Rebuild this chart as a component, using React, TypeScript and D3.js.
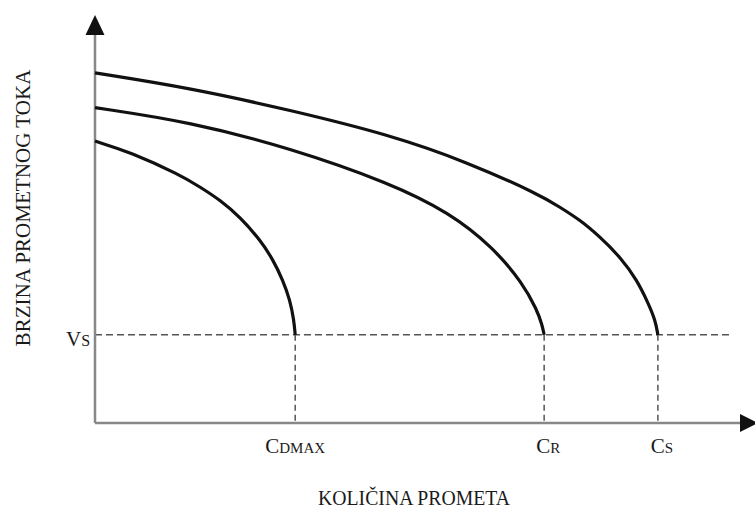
import React from "react";
import * as d3 from "d3";

// Speed-flow curves (flow on x, speed on y) (0-100 units)
const curveS_flow = [0, 14.6, 30.0, 45.4, 57.2, 68.5, 71.5, 74.6, 77.7, 80.8, 83.4, 85.1, 86.2, 86.6];
const curveS_speed = [85.8, 82.1, 76.7, 70.6, 64.0, 55.9, 52.9, 49.8, 45.6, 40.7, 35.0, 29.4, 25.2, 21.6];
const curveR_flow = [0, 14.6, 30.0, 45.4, 54.6, 61.2, 65.8, 68.0, 68.8, 69.1];
const curveR_speed = [77.3, 73.8, 67.4, 58.8, 51.5, 43.1, 34.3, 27.7, 24.0, 21.6];
const curveD_flow = [0, 5.4, 13.1, 16.2, 19.2, 22.3, 25.4, 27.4, 28.9, 30.0, 30.6, 30.8];
const curveD_speed = [69.1, 66.4, 60.8, 57.8, 54.7, 50.5, 44.9, 40.0, 35.0, 30.1, 25.2, 21.6];

const vsValue = 21.6;
const vsLabel = ["V", "S"];
const capacityValues = [30.8, 69.1, 86.6];
const capacityLabels = [["C", "DMAX"], ["C", "R"], ["C", "S"]];
const xTitle = "KOLIČINA PROMETA";
const yTitle = "BRZINA PROMETNOG TOKA";

const W = 755;
const H = 509;

export default function App() {
  const x = d3.scaleLinear().domain([0, 100]).range([95, 745]);
  const y = d3.scaleLinear().domain([0, 100]).range([423, 15]);
  const line = d3
    .line<[number, number]>()
    .x((d) => x(d[0]))
    .y((d) => y(d[1]))
    .curve(d3.curveBasis);

  const series = [
    curveS_flow.map((f, i) => [f, curveS_speed[i]] as [number, number]),
    curveR_flow.map((f, i) => [f, curveR_speed[i]] as [number, number]),
    curveD_flow.map((f, i) => [f, curveD_speed[i]] as [number, number]),
  ];

  const x0 = x(0);
  const y0 = y(0);
  const yTop = y(100);
  const font = "'Liberation Serif', 'Times New Roman', serif";

  return (
    <svg
      width={W}
      height={H}
      style={{ position: "absolute", left: 0, top: 0, background: "#fff" }}
      fontFamily={font}
    >
      {/* Vs dashed line */}
      <line
        x1={x0}
        x2={x(97.7)}
        y1={y(vsValue)}
        y2={y(vsValue)}
        stroke="#555"
        strokeWidth={1.5}
        strokeDasharray="7,4"
      />
      {/* capacity dashed lines */}
      {capacityValues.map((c, i) => (
        <line
          key={i}
          x1={x(c)}
          x2={x(c)}
          y1={y(vsValue)}
          y2={y0}
          stroke="#555"
          strokeWidth={1.5}
          strokeDasharray="6,4"
        />
      ))}
      {/* axes */}
      <line x1={x0} x2={x0} y1={y0} y2={yTop + 18} stroke="#888" strokeWidth={2.5} />
      <line x1={x0} x2={742} y1={y0} y2={y0} stroke="#888" strokeWidth={2.5} />
      <path d={`M${x0},${yTop} L${x0 - 9.5},${yTop + 20} L${x0 + 9.5},${yTop + 20} Z`} fill="#111" />
      <path d={`M758,${y0} L740,${y0 - 9} L740,${y0 + 9} Z`} fill="#111" />
      {/* curves */}
      {series.map((s, i) => (
        <path key={i} d={line(s) || ""} fill="none" stroke="#111" strokeWidth={3.2} />
      ))}
      {/* Vs label */}
      <text x={78} y={346} textAnchor="middle" fill="#1a1a1a" fontSize={21}>
        {vsLabel[0]}
        <tspan fontSize={16}>{vsLabel[1]}</tspan>
      </text>
      {/* capacity labels */}
      {capacityValues.map((c, i) => (
        <text
          key={i}
          x={x(c) + (i === 0 ? 0 : 4)}
          y={453}
          textAnchor="middle"
          fill="#1a1a1a"
          fontSize={21}
        >
          {capacityLabels[i][0]}
          <tspan fontSize={15}>{capacityLabels[i][1]}</tspan>
        </text>
      ))}
      {/* axis titles */}
      <text
        x={414}
        y={505}
        textAnchor="middle"
        fill="#1a1a1a"
        fontSize={21}
        textLength={192}
        lengthAdjust="spacingAndGlyphs"
      >
        {xTitle}
      </text>
      <text
        transform={`translate(30,208) rotate(-90)`}
        textAnchor="middle"
        fill="#1a1a1a"
        fontSize={22}
        textLength={277}
        lengthAdjust="spacingAndGlyphs"
      >
        {yTitle}
      </text>
    </svg>
  );
}
